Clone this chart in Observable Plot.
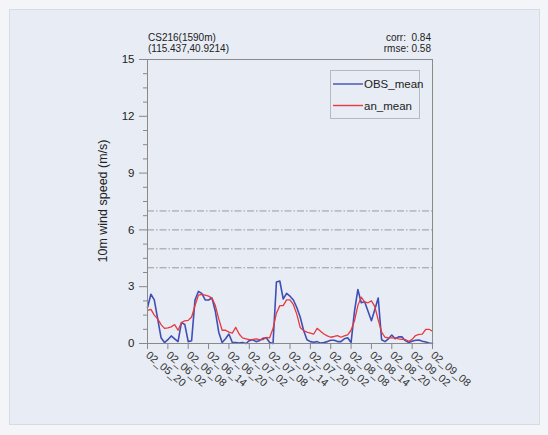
<!DOCTYPE html>
<html><head><meta charset="utf-8">
<script src="https://cdn.jsdelivr.net/npm/d3@7"></script>
<script src="https://cdn.jsdelivr.net/npm/@observablehq/plot@0.6"></script>
<style>
html,body{margin:0;padding:0;background:#f3f5f9;}
#wrap{position:relative;width:548px;height:435px;overflow:hidden;}
#panel{position:absolute;left:9px;top:9px;width:531px;height:416px;background:#e8ecf4;border:1px solid #d6dbe5;box-sizing:border-box;}
#chart{position:absolute;left:0;top:0;}
</style></head><body>
<div id="wrap"><div id="panel"></div><div id="chart"></div></div>
<script>
// hourly series, 02_05_20 .. 02_09_08
const obsMean = [1.9,2.6,2.3,1.3,0.3,0.05,0.2,0.4,0.25,0.1,1.1,1.0,0.1,0.15,2.3,2.75,2.65,2.3,2.3,2.4,1.7,0.6,0.05,0.25,0.5,0.05,0.05,0.02,0.05,0.0,0.15,0.2,0.1,0.15,0.27,0.3,0.05,0.0,3.25,3.3,2.35,2.65,2.5,2.3,1.9,1.4,0.7,0.2,0.1,0.07,0.1,0.02,0.05,0.1,0.17,0.17,0.1,0.1,0.25,0.3,0.05,1.7,2.85,2.15,2.2,1.7,1.2,1.8,2.4,0.2,0.1,0.25,0.45,0.25,0.35,0.35,0.15,0.05,0.12,0.17,0.18,0.12,0.08,0.03,0.0];
const anMean = [1.75,1.8,1.5,1.3,1.0,0.8,0.83,0.88,1.0,0.7,1.1,1.2,1.22,1.4,2.0,2.55,2.6,2.55,2.5,2.4,2.0,1.3,0.7,0.7,0.6,0.55,0.85,0.5,0.3,0.25,0.2,0.22,0.25,0.2,0.2,0.32,0.3,0.8,1.6,2.0,2.0,2.3,2.3,2.05,1.55,0.85,0.68,0.6,0.55,0.5,0.8,0.65,0.5,0.4,0.33,0.37,0.42,0.33,0.4,0.45,0.7,1.2,2.0,2.45,2.2,2.15,2.25,1.95,1.25,0.6,0.33,0.3,0.3,0.3,0.25,0.22,0.2,0.12,0.22,0.42,0.48,0.5,0.75,0.75,0.65];
const xTickHours = [0,6,12,18,24,30,36,42,48,54,60,66,72,78,84];
const xTickLabels = ["02_05_20","02_06_02","02_06_08","02_06_14","02_06_20","02_07_02","02_07_08","02_07_14","02_07_20","02_08_02","02_08_08","02_08_14","02_08_20","02_09_02","02_09_08"];
const yTicks = [0,3,6,9,12,15];
const yMinorTicks = [0.75,1.5,2.25,3.75,4.5,5.25,6.75,7.5,8.25,9.75,10.5,11.25,12.75,13.5,14.25];
const refLevels = [4,5,6,7];
const seriesNames = ["OBS_mean","an_mean"];
const seriesColors = ["#3f4fb5","#e8393f"];
const titleLines = ["CS216(1590m)","(115.437,40.9214)"];
const statLines = ["corr:  0.84","rmse: 0.58"];
const yLabel = "10m wind speed (m/s)";

const font = "'Liberation Sans', Arial, Helvetica, sans-serif";
const plot = Plot.plot({
  width: 548, height: 435,
  marginLeft: 147, marginRight: 116, marginTop: 59, marginBottom: 92,
  style: {background: "transparent", fontFamily: font, color: "#222", overflow: "visible"},
  x: {domain: [0, 84]},
  y: {domain: [0, 15]},
  marks: [
    Plot.ruleY(refLevels, {stroke: "#9a9a9a", strokeDasharray: "7,2,1.5,2", strokeWidth: 1}),
    Plot.line(obsMean, {x: (d, i) => i, y: d => d, stroke: seriesColors[0], strokeWidth: 1.6}),
    Plot.line(anMean, {x: (d, i) => i, y: d => d, stroke: seriesColors[1], strokeWidth: 1.3}),
    Plot.frame({stroke: "#8a8a8a"}),
    Plot.axisY(yMinorTicks, {tickSize: 4, fill: "none", stroke: "#888", label: null}),
    Plot.axisY(yTicks, {tickSize: 8, tickPadding: 5, fontSize: 11.5, stroke: "#888", fill: "#222", label: null}),
    Plot.axisX(xTickHours, {tickSize: 6, tickPadding: 4, tickRotate: 40, fontSize: 10.8, stroke: "#888", fill: "#333",
      tickFormat: d => xTickLabels[xTickHours.indexOf(d)], label: null})
  ]
});
document.getElementById("chart").appendChild(plot);

const svg = d3.select(plot);
const g = svg.append("g").attr("font-family", font).attr("fill", "#222");
g.append("text").attr("transform", "translate(107,201) rotate(-90)").attr("text-anchor", "middle")
  .attr("font-size", 12.5).text(yLabel);
titleLines.forEach((t, i) => g.append("text").attr("x", 148).attr("y", 41 + i * 11).attr("font-size", 10)
  .attr("text-anchor", "start").text(t));
statLines.forEach((t, i) => g.append("text").attr("x", 431).attr("y", 41 + i * 11).attr("font-size", 10)
  .attr("text-anchor", "end").style("white-space", "pre").text(t));
// legend
const lg = svg.append("g").attr("font-family", font);
lg.append("rect").attr("x", 330.5).attr("y", 70.5).attr("width", 89).attr("height", 48)
  .attr("fill", "none").attr("stroke", "#b5b9c2");
seriesNames.forEach((n, i) => {
  const yy = 84 + i * 21.5;
  lg.append("line").attr("x1", 333).attr("x2", 363).attr("y1", yy).attr("y2", yy)
    .attr("stroke", seriesColors[i]).attr("stroke-width", 1.4);
  lg.append("text").attr("x", 364).attr("y", yy + 4).attr("font-size", 11.5).attr("fill", "#222")
    .attr("text-anchor", "start").text(n);
});
</script>
</body></html>
